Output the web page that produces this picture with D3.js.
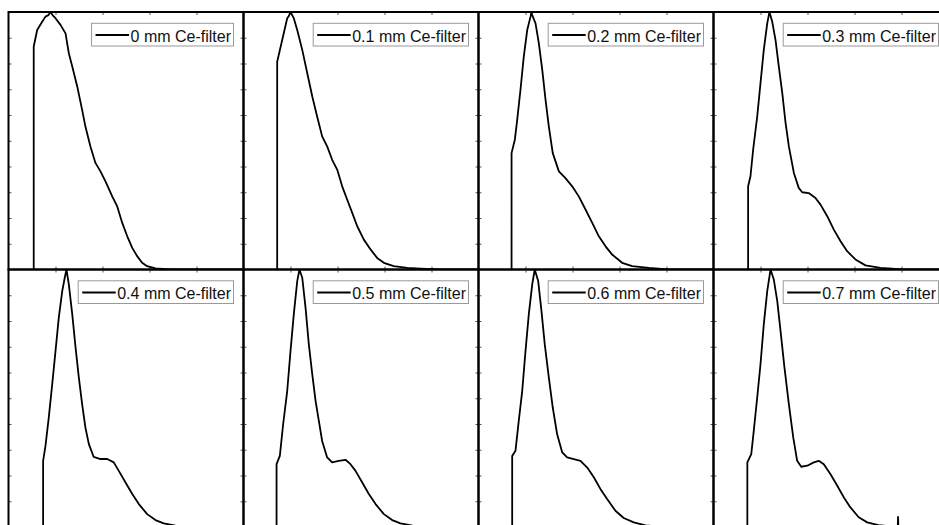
<!DOCTYPE html>
<html><head><meta charset="utf-8">
<script src="https://cdn.jsdelivr.net/npm/d3@7"></script>
<style>body{margin:0;background:#fff} svg{display:block}</style>
</head><body>
<svg id="c" width="939" height="525"></svg>
<script>
// Legend labels (one panel per filter thickness)
const filterLabels = ["0 mm Ce-filter","0.1 mm Ce-filter","0.2 mm Ce-filter","0.3 mm Ce-filter",
                      "0.4 mm Ce-filter","0.5 mm Ce-filter","0.6 mm Ce-filter","0.7 mm Ce-filter"];
// Spectra: [energy (keV), normalized intensity]
const spec00 = [[16.1,0],[16.1,0.866],[18.3,0.930],[21.5,0.962],[23.6,0.982],[25.5,0.988],[26.8,1.0],[28.1,0.988],[30.0,0.976],[33.2,0.950],[36.4,0.917],[38.5,0.840],[40.7,0.788],[43.9,0.710],[47.0,0.620],[49.1,0.555],[52.3,0.478],[55.5,0.414],[58.7,0.381],[61.9,0.342],[66.2,0.284],[69.4,0.245],[72.6,0.181],[75.8,0.129],[79.0,0.084],[82.1,0.052],[85.3,0.026],[88.5,0.013],[93.8,0.004],[103.4,0],[150,0]];
const spec01 = [[21.5,0],[21.5,0.807],[24.7,0.891],[27.9,0.976],[28.9,0.984],[30.0,1.0],[32.1,0.976],[34.3,0.930],[37.5,0.853],[40.7,0.762],[43.9,0.672],[47.0,0.594],[50.2,0.517],[53.4,0.478],[56.6,0.426],[59.8,0.388],[63.0,0.323],[66.2,0.271],[69.4,0.220],[72.6,0.168],[76.8,0.116],[81.1,0.078],[85.3,0.045],[89.6,0.026],[95.9,0.013],[104.5,0.006],[113.0,0.003],[125.7,0],[150,0]];
const spec02 = [[21.1,0],[21.1,0.452],[23.2,0.504],[24.7,0.581],[26.8,0.698],[28.9,0.827],[31.1,0.930],[33.2,0.982],[33.8,1.0],[34.3,0.988],[36.4,0.956],[38.5,0.879],[40.7,0.775],[42.8,0.659],[44.9,0.555],[47.4,0.452],[51.3,0.381],[55.5,0.355],[59.8,0.323],[64.0,0.284],[68.3,0.233],[72.6,0.181],[76.8,0.129],[81.1,0.090],[85.3,0.058],[91.7,0.026],[98.1,0.013],[108.7,0.006],[121,0],[150,0]];
const spec03 = [[22.1,0],[22.1,0.323],[23.6,0.362],[25.3,0.465],[27.9,0.594],[30.0,0.724],[32.1,0.853],[34.3,0.956],[35.7,1.0],[37.5,0.962],[39.6,0.891],[41.7,0.788],[43.9,0.685],[46.0,0.569],[48.1,0.478],[51.3,0.375],[54.4,0.317],[56.6,0.300],[60.8,0.297],[65.1,0.278],[68.3,0.252],[72.6,0.207],[76.8,0.155],[81.1,0.110],[85.3,0.071],[90.6,0.039],[97.0,0.016],[106.6,0.006],[121,0],[150,0]];
const spec04 = [[22.1,0],[22.1,0.257],[23.6,0.315],[25.7,0.425],[27.9,0.554],[30.0,0.683],[32.1,0.813],[34.3,0.916],[35.9,0.968],[37.0,1.0],[38.5,0.942],[40.7,0.826],[42.8,0.697],[44.9,0.580],[47.0,0.477],[49.1,0.386],[51.3,0.322],[54.4,0.272],[58.7,0.264],[63.0,0.264],[67.2,0.251],[70.4,0.218],[74.7,0.173],[79.0,0.128],[83.2,0.089],[88.5,0.050],[93.8,0.027],[99.1,0.014],[106.6,0.005],[119.4,0],[150,0]];
const spec05 = [[21.1,0],[21.1,0.244],[23.2,0.276],[25.3,0.399],[27.9,0.528],[30.0,0.683],[32.1,0.826],[34.3,0.955],[35.7,1.0],[37.5,0.968],[39.6,0.852],[41.7,0.709],[43.9,0.593],[46.0,0.490],[48.1,0.412],[50.2,0.334],[53.4,0.270],[56.6,0.251],[60.8,0.257],[65.1,0.261],[68.3,0.244],[71.5,0.218],[75.8,0.173],[80.0,0.128],[84.3,0.089],[89.6,0.050],[94.9,0.027],[100.2,0.014],[107.9,0.005],[120.6,0],[150,0]];
const spec06 = [[21.5,0],[21.5,0.276],[23.6,0.296],[25.7,0.412],[27.9,0.528],[30.0,0.683],[32.1,0.826],[34.3,0.942],[35.9,1.0],[38.1,0.955],[40.2,0.838],[42.3,0.709],[44.9,0.580],[47.4,0.464],[50.2,0.360],[53.4,0.290],[56.6,0.270],[60.8,0.264],[65.1,0.257],[69.4,0.231],[73.6,0.193],[77.9,0.147],[82.1,0.109],[87.4,0.063],[92.7,0.035],[99.1,0.018],[106.6,0.006],[119.4,0],[150,0]];
const spec07 = [[21.6,0],[21.6,0.251],[24.1,0.283],[25.7,0.373],[27.9,0.503],[30.0,0.632],[32.1,0.787],[34.3,0.916],[36.4,1.0],[38.5,0.961],[40.7,0.877],[42.8,0.761],[45.3,0.619],[48.1,0.477],[50.9,0.348],[53.4,0.257],[56.0,0.234],[59.8,0.238],[64.0,0.251],[67.2,0.257],[70.4,0.244],[74.7,0.205],[79.0,0.160],[83.2,0.115],[87.4,0.076],[92.7,0.038],[98.1,0.018],[105.3,0.007],[117.6,0],[117.8,0.039],[118.0,0],[150,0]];
const energyDomain = [0, 150];
const intensityDomain = [0, 1];
const xTicks = [30, 60, 90, 120];
const yTicks = [0.1,0.2,0.3,0.4,0.5,0.6,0.7,0.8,0.9];

const series = [spec00, spec01, spec02, spec03, spec04, spec05, spec06, spec07];
const svg = d3.select("#c");
const W = 235, H = 257.5, X0 = 8.5, Y0 = 12;
const defs = svg.append("defs");

series.forEach((data, i) => {
  const col = i % 4, row = Math.floor(i / 4);
  const left = X0 + col * W, top = Y0 + row * H;
  const x = d3.scaleLinear().domain(energyDomain).range([left, left + W]);
  const y = d3.scaleLinear().domain(intensityDomain).range([top + H, top]);
  const g = svg.append("g");

  defs.append("clipPath").attr("id", "clip" + i)
    .append("rect").attr("x", left).attr("y", top).attr("width", W).attr("height", H);

  // ticks (inward)
  const tickStyle = s => { s.select(".domain").remove(); s.selectAll("line").attr("stroke", "#555").attr("stroke-width", 1); s.selectAll("text").remove(); };
  g.append("g").attr("transform", `translate(0,${top})`).call(d3.axisTop(x).tickValues(xTicks).tickSize(-3)).call(tickStyle);
  if (row === 0) {
    g.append("g").attr("transform", `translate(0,${top + H})`).call(d3.axisBottom(x).tickValues(xTicks).tickSize(-3)).call(tickStyle);
  }
  g.append("g").attr("transform", `translate(${left},0)`).call(d3.axisLeft(y).tickValues(yTicks).tickSize(-3)).call(tickStyle);
  g.append("g").attr("transform", `translate(${left + W},0)`).call(d3.axisRight(y).tickValues(yTicks).tickSize(-3)).call(tickStyle);

  // curve
  g.append("path").datum(data)
    .attr("clip-path", `url(#clip${i})`)
    .attr("fill", "none").attr("stroke", "#000").attr("stroke-width", 1.8)
    .attr("stroke-linejoin", "round")
    .attr("d", d3.line().x(d => x(d[0])).y(d => y(d[1])));

  // frame
  g.append("rect").attr("x", left).attr("y", top).attr("width", W).attr("height", H)
    .attr("fill", "none").attr("stroke", "#000").attr("stroke-width", 2);

  // legend
  const lg = g.append("g");
  const box = lg.append("rect");
  const txt = lg.append("text").text(filterLabels[i])
    .attr("font-family", "'Liberation Sans', Arial, sans-serif").attr("font-size", 16)
    .attr("fill", "#111");
  const len = txt.node().getComputedTextLength();
  const rightEdge = left + W - 10;
  const textEnd = rightEdge - 2.5;
  const textStart = textEnd - len;
  const lineStart = textStart - 35;
  txt.attr("x", textStart).attr("y", top + 29.7);
  box.attr("x", lineStart - 4).attr("y", top + 11.3)
    .attr("width", rightEdge - (lineStart - 4)).attr("height", 22.7)
    .attr("fill", "#fff").attr("stroke", "#999").attr("stroke-width", 1);
  lg.append("line").attr("x1", lineStart).attr("x2", textStart - 1.5)
    .attr("y1", top + 23).attr("y2", top + 23)
    .attr("stroke", "#000").attr("stroke-width", 1.8);
});
</script>
</body></html>
